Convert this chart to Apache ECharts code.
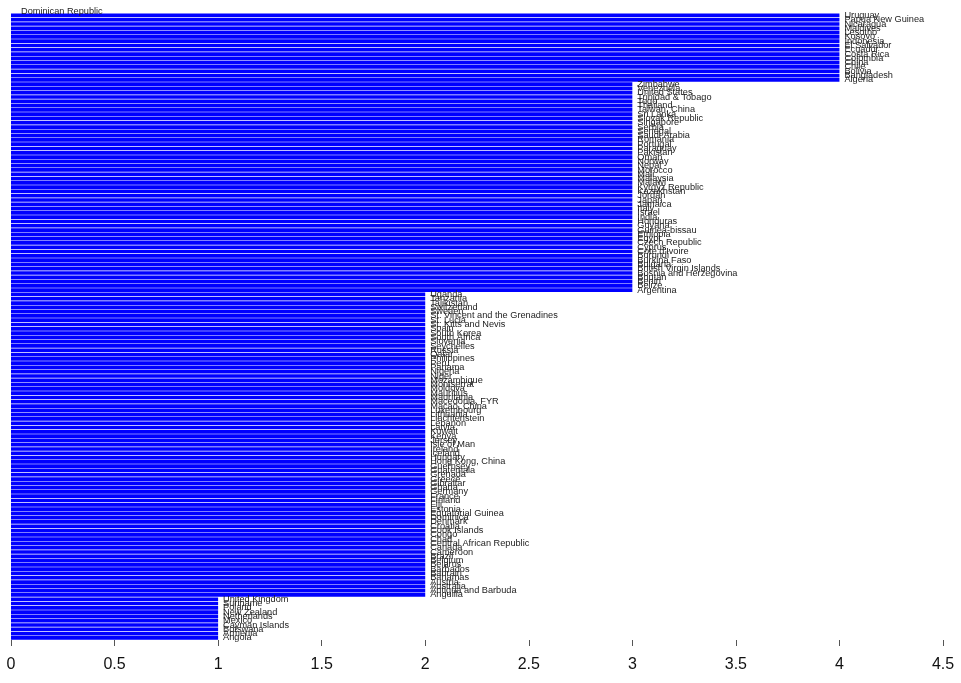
<!DOCTYPE html>
<html><head><meta charset="utf-8">
<script src="https://cdn.jsdelivr.net/npm/echarts@6/dist/echarts.min.js"></script>
<style>html,body{margin:0;padding:0;background:#fff}#c{width:961px;height:683px}</style>
</head><body><div id="c"></div>
<script>
// Categories listed top to bottom
const categories = [
"Dominican Republic",
"Uruguay","Papua New Guinea","Nicaragua","Maldives","Lesotho","Kosovo","Indonesia","El Salvador","Ecuador","Costa Rica","Colombia","China","Chile","Bolivia","Bangladesh","Algeria",
"Zimbabwe","Venezuela","United States","Trinidad & Tobago","Togo","Thailand","Taiwan, China","Sri Lanka","Slovak Republic","Singapore","Serbia","Senegal","Saudi Arabia","Romania","Portugal","Paraguay","Pakistan","Oman","Norway","Nepal","Morocco","Mali","Malaysia","Malawi","Kyrgyz Republic","Kazakhstan","Jordan","Japan","Jamaica","Italy","Israel","India","Honduras","Guyana","Guinea-bissau","Ethiopia","Egypt","Czech Republic","Cyprus","Cote d'Ivoire","Burundi","Burkina Faso","Bulgaria","British Virgin Islands","Bosnia and Herzegovina","Bhutan","Benin","Belize","Argentina",
"Uganda","Tanzania","Tajikistan","Switzerland","Sweden","St. Vincent and the Grenadines","St. Lucia","St. Kitts and Nevis","Spain","South Korea","South Africa","Slovenia","Seychelles","Russia","Qatar","Philippines","Peru","Panama","Nigeria","Niger","Mozambique","Montserrat","Moldova","Mauritius","Mauritania","Macedonia, FYR","Macao, China","Luxembourg","Lithuania","Liechtenstein","Lebanon","Latvia","Kuwait","Kenya","Jersey","Isle of Man","Ireland","Iceland","Hungary","Hong Kong, China","Guernsey","Guatemala","Grenada","Greece","Gibraltar","Ghana","Germany","France","Finland","Fiji","Estonia","Equatorial Guinea","Dominica","Denmark","Croatia","Cook Islands","Congo","Chad","Central African Republic","Canada","Cameroon","Brazil","Belgium","Belarus","Barbados","Bahrain","Bahamas","Austria","Australia","Antigua and Barbuda","Anguilla",
"United Kingdom","Suriname","Poland","New Zealand","Netherlands","Mexico","Cayman Islands","Botswana","Armenia","Angola"
];
const values = [
0,
4,4,4,4,4,4,4,4,4,4,4,4,4,4,4,4,
3,3,3,3,3,3,3,3,3,3,3,3,3,3,3,3,3,3,3,3,3,3,3,3,3,3,3,3,3,3,3,3,3,3,3,3,3,3,3,3,3,3,3,3,3,3,3,3,3,
2,2,2,2,2,2,2,2,2,2,2,2,2,2,2,2,2,2,2,2,2,2,2,2,2,2,2,2,2,2,2,2,2,2,2,2,2,2,2,2,2,2,2,2,2,2,2,2,2,2,2,2,2,2,2,2,2,2,2,2,2,2,2,2,2,2,2,2,2,2,2,
1,1,1,1,1,1,1,1,1,1
];
const xTicks = [0,0.5,1,1.5,2,2.5,3,3.5,4,4.5];

const seriesData = values.map(function(v){
  return v === 0 ? {value:v, label:{offset:[5,0]}} : v;
});

const chart = echarts.init(document.getElementById('c'));
chart.setOption({
  animation:false,
  grid:{left:11,right:18,top:9,bottom:43,containLabel:false},
  xAxis:{type:'value',min:xTicks[0],max:xTicks[xTicks.length-1],interval:0.5,
    axisLine:{show:false},
    axisTick:{show:true,length:6,lineStyle:{color:'#555'}},
    splitLine:{show:false},
    axisLabel:{fontFamily:'Liberation Sans',fontSize:16,color:'#111',margin:17}},
  yAxis:{type:'category',data:categories,inverse:true,show:false},
  series:[{type:'bar',data:seriesData,barCategoryGap:'14%',
    itemStyle:{color:'#0000ff'},
    label:{show:true,position:'right',distance:5,formatter:'{b}',
      fontFamily:'Liberation Sans',fontSize:9.2,color:'#222'}}]
});
</script></body></html>
